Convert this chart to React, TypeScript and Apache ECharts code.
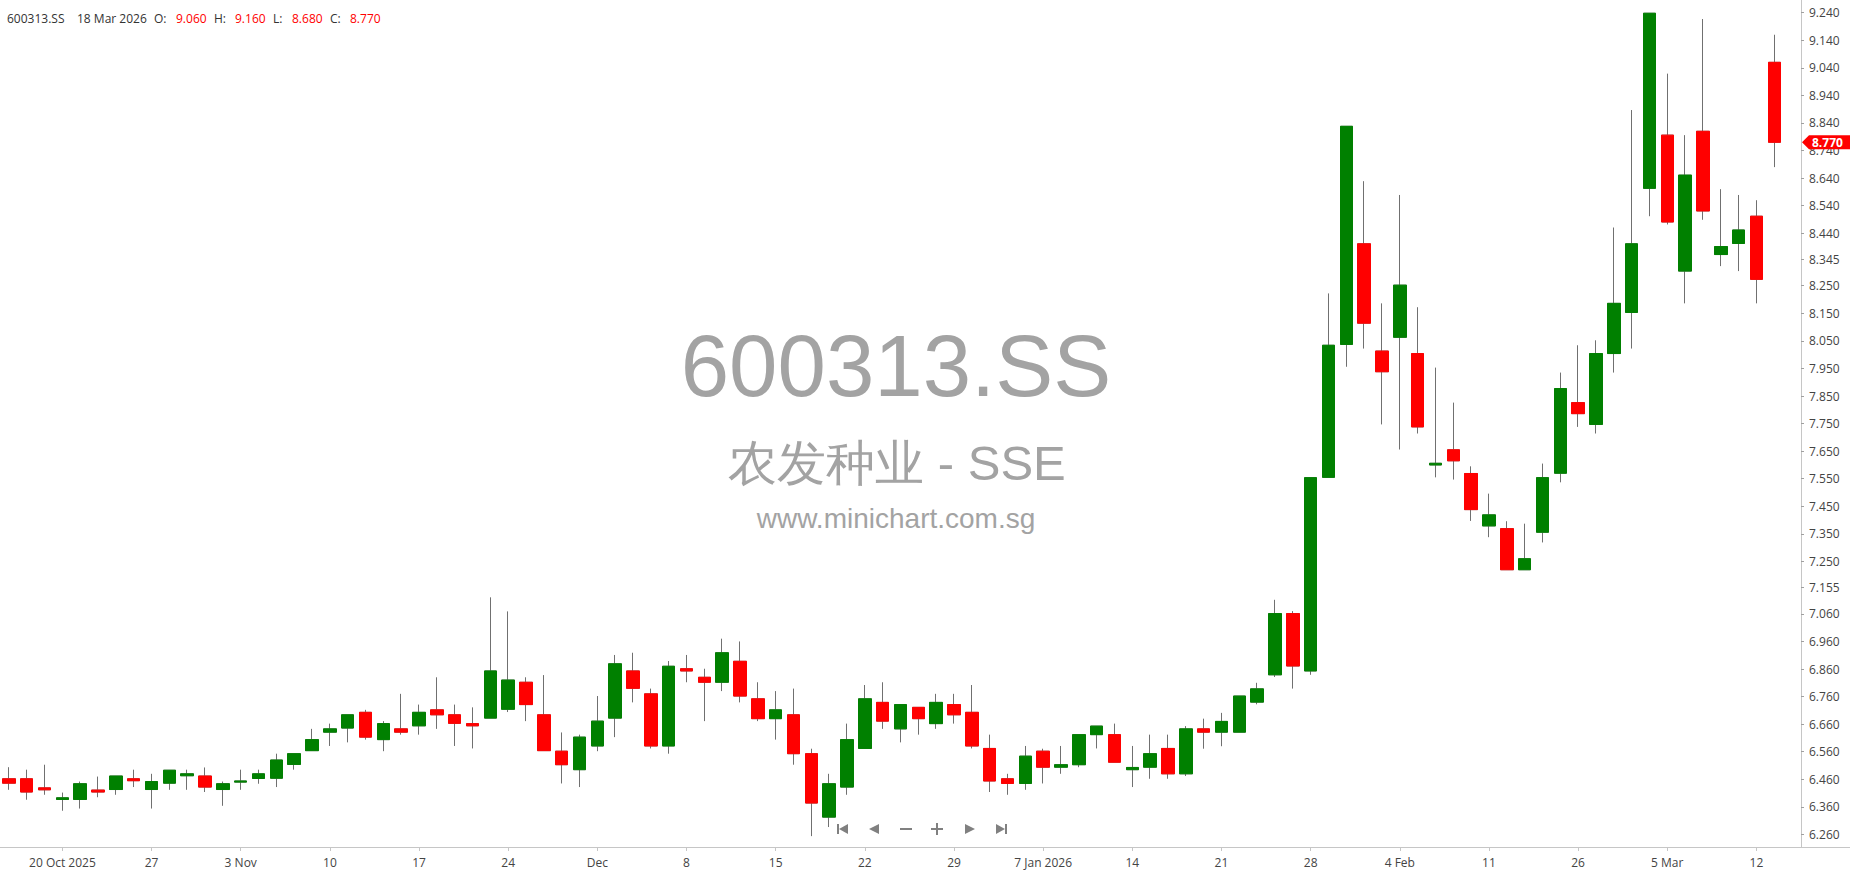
import React, { useEffect, useRef } from 'react';
import * as echarts from 'echarts';

// Trading dates (one per candle)
const dates: string[] = [
  '2025-10-15', '2025-10-16', '2025-10-17', '2025-10-20', '2025-10-21', '2025-10-22', '2025-10-23', '2025-10-24', '2025-10-27', '2025-10-28',
  '2025-10-29', '2025-10-30', '2025-10-31', '2025-11-03', '2025-11-04', '2025-11-05', '2025-11-06', '2025-11-07', '2025-11-10', '2025-11-11',
  '2025-11-12', '2025-11-13', '2025-11-14', '2025-11-17', '2025-11-18', '2025-11-19', '2025-11-20', '2025-11-21', '2025-11-24', '2025-11-25',
  '2025-11-26', '2025-11-27', '2025-11-28', '2025-12-01', '2025-12-02', '2025-12-03', '2025-12-04', '2025-12-05', '2025-12-08', '2025-12-09',
  '2025-12-10', '2025-12-11', '2025-12-12', '2025-12-15', '2025-12-16', '2025-12-17', '2025-12-18', '2025-12-19', '2025-12-22', '2025-12-23',
  '2025-12-24', '2025-12-25', '2025-12-26', '2025-12-29', '2025-12-30', '2025-12-31', '2026-01-05', '2026-01-06', '2026-01-07', '2026-01-08',
  '2026-01-09', '2026-01-12', '2026-01-13', '2026-01-14', '2026-01-15', '2026-01-16', '2026-01-19', '2026-01-20', '2026-01-21', '2026-01-22',
  '2026-01-23', '2026-01-26', '2026-01-27', '2026-01-28', '2026-01-29', '2026-01-30', '2026-02-02', '2026-02-03', '2026-02-04', '2026-02-05',
  '2026-02-06', '2026-02-09', '2026-02-10', '2026-02-11', '2026-02-12', '2026-02-13', '2026-02-24', '2026-02-25', '2026-02-26', '2026-02-27',
  '2026-03-02', '2026-03-03', '2026-03-04', '2026-03-05', '2026-03-06', '2026-03-09', '2026-03-10', '2026-03-11', '2026-03-12', '2026-03-18',
];

const opens: number[] = [
  6.462, 6.462, 6.429, 6.387, 6.387, 6.421, 6.423, 6.462, 6.423, 6.446,
  6.473, 6.472, 6.423, 6.450, 6.463, 6.464, 6.514, 6.564, 6.631, 6.646,
  6.703, 6.604, 6.643, 6.654, 6.712, 6.694, 6.662, 6.682, 6.714, 6.812,
  6.694, 6.562, 6.495, 6.581, 6.682, 6.853, 6.770, 6.581, 6.861, 6.830,
  6.812, 6.888, 6.752, 6.680, 6.694, 6.553, 6.323, 6.432, 6.572, 6.739,
  6.643, 6.721, 6.662, 6.731, 6.703, 6.572, 6.462, 6.445, 6.562, 6.504,
  6.513, 6.622, 6.622, 6.495, 6.504, 6.572, 6.480, 6.643, 6.631, 6.631,
  6.740, 6.839, 7.061, 6.853, 7.555, 8.037, 8.402, 8.013, 8.063, 8.004,
  7.600, 7.655, 7.569, 7.379, 7.369, 7.220, 7.356, 7.570, 7.826, 7.747,
  8.004, 8.153, 8.603, 8.796, 8.303, 8.810, 8.363, 8.403, 8.502, 9.060,
];

const closes: number[] = [
  6.446, 6.414, 6.422, 6.393, 6.444, 6.414, 6.472, 6.455, 6.452, 6.493,
  6.480, 6.432, 6.444, 6.454, 6.480, 6.530, 6.553, 6.604, 6.643, 6.694,
  6.613, 6.662, 6.631, 6.703, 6.694, 6.663, 6.654, 6.853, 6.820, 6.731,
  6.564, 6.513, 6.613, 6.671, 6.879, 6.790, 6.581, 6.870, 6.853, 6.812,
  6.919, 6.762, 6.680, 6.712, 6.553, 6.374, 6.444, 6.604, 6.752, 6.671,
  6.731, 6.680, 6.739, 6.694, 6.581, 6.454, 6.445, 6.544, 6.504, 6.513,
  6.622, 6.653, 6.522, 6.503, 6.553, 6.480, 6.643, 6.631, 6.670, 6.762,
  6.788, 7.061, 6.871, 7.554, 8.034, 8.828, 8.114, 7.938, 8.252, 7.738,
  7.606, 7.615, 7.438, 7.419, 7.220, 7.260, 7.554, 7.877, 7.786, 8.004,
  8.186, 8.402, 9.238, 8.481, 8.651, 8.521, 8.392, 8.452, 8.273, 8.770,
];

const lows: number[] = [
  6.422, 6.386, 6.404, 6.346, 6.354, 6.395, 6.404, 6.432, 6.354, 6.422,
  6.422, 6.414, 6.364, 6.422, 6.444, 6.432, 6.495, 6.564, 6.581, 6.594,
  6.604, 6.562, 6.622, 6.622, 6.643, 6.581, 6.572, 6.682, 6.704, 6.671,
  6.564, 6.445, 6.432, 6.562, 6.613, 6.739, 6.572, 6.553, 6.812, 6.671,
  6.780, 6.739, 6.671, 6.604, 6.513, 6.254, 6.287, 6.404, 6.572, 6.643,
  6.594, 6.622, 6.643, 6.662, 6.572, 6.414, 6.404, 6.422, 6.445, 6.480,
  6.504, 6.572, 6.522, 6.432, 6.462, 6.462, 6.472, 6.571, 6.580, 6.631,
  6.732, 6.831, 6.789, 6.839, 7.555, 7.956, 8.022, 7.747, 7.656, 7.714,
  7.555, 7.547, 7.397, 7.338, 7.220, 7.220, 7.319, 7.537, 7.738, 7.714,
  7.935, 8.022, 8.502, 8.472, 8.186, 8.489, 8.321, 8.303, 8.186, 8.680,
];

const highs: number[] = [
  6.504, 6.495, 6.513, 6.412, 6.452, 6.470, 6.472, 6.495, 6.480, 6.493,
  6.495, 6.503, 6.452, 6.495, 6.495, 6.553, 6.553, 6.643, 6.662, 6.694,
  6.712, 6.671, 6.770, 6.731, 6.830, 6.731, 6.721, 7.120, 7.069, 6.830,
  6.838, 6.630, 6.622, 6.762, 6.911, 6.919, 6.789, 6.889, 6.911, 6.861,
  6.970, 6.960, 6.812, 6.780, 6.789, 6.571, 6.480, 6.662, 6.802, 6.812,
  6.731, 6.721, 6.770, 6.770, 6.802, 6.622, 6.480, 6.581, 6.571, 6.581,
  6.622, 6.653, 6.662, 6.581, 6.622, 6.622, 6.653, 6.680, 6.701, 6.762,
  6.810, 7.111, 7.070, 7.554, 8.222, 8.828, 8.629, 8.186, 8.579, 8.172,
  7.953, 7.826, 7.595, 7.496, 7.396, 7.387, 7.605, 7.935, 8.034, 8.052,
  8.461, 8.887, 9.238, 9.019, 8.796, 9.217, 8.600, 8.579, 8.560, 9.160,
];

// Weekly x-axis labels: first at candle index 3, then every 5 candles
const xTickLabels: string[] = [
  '20 Oct 2025', '27', '3 Nov', '10', '17', '24', 'Dec', '8', '15', '22',
  '29', '7 Jan 2026', '14', '21', '28', '4 Feb', '11', '26', '5 Mar', '12',
];
const xTickStart = 3;
const xTickStep = 5;

// Right price axis labels
const yTickValues: number[] = [
  9.24, 9.14, 9.04, 8.94, 8.84, 8.74, 8.64, 8.54, 8.44, 8.345,
  8.25, 8.15, 8.05, 7.95, 7.85, 7.75, 7.65, 7.55, 7.45, 7.35,
  7.25, 7.155, 7.06, 6.96, 6.86, 6.76, 6.66, 6.56, 6.46, 6.36, 6.26,
];

const symbolName = '600313.SS';
const companyLine = '农发种业 - SSE';
const siteLine = 'www.minichart.com.sg';
const headerDate = '18 Mar 2026';

const FONT = '"Open Sans", "Noto Sans", sans-serif';
const WM_FONT = '"Liberation Sans", Arial, sans-serif';
const UP = '#008000';
const DOWN = '#ff0000';
const WICK = '#707070';
const AXIS = '#c6c6c6';
const TEXT = '#444444';

const W = 1850;
const H = 874;
const GRID_RIGHT = 49;
const GRID_BOTTOM = 27;

const isXTick = (i: number) => i >= xTickStart && (i - xTickStart) % xTickStep === 0 && (i - xTickStart) / xTickStep < xTickLabels.length;

export default function App() {
  const ref = useRef<HTMLDivElement>(null);

  useEffect(() => {
    const el = ref.current;
    if (!el) return;
    const chart = echarts.init(el, null, { renderer: 'svg' });

    const full = dates.map((_, i) => [opens[i], closes[i], lows[i], highs[i]]);
    const bodies = dates.map((_, i) => [opens[i], closes[i], Math.min(opens[i], closes[i]), Math.max(opens[i], closes[i])]);

    chart.setOption({
      animation: false,
      backgroundColor: '#ffffff',
      grid: { left: 0, right: GRID_RIGHT, top: 0, bottom: GRID_BOTTOM, containLabel: false },
      xAxis: {
        type: 'category',
        data: [...dates, ''],
        boundaryGap: true,
        axisLine: { show: true, lineStyle: { color: AXIS, width: 1 } },
        axisTick: {
          show: true,
          alignWithLabel: true,
          interval: (i: number) => isXTick(i),
          length: 4,
          lineStyle: { color: AXIS },
        },
        axisLabel: {
          interval: (i: number) => isXTick(i),
          formatter: (_v: string, i: number) => (isXTick(i) ? xTickLabels[(i - xTickStart) / xTickStep] : ''),
          color: TEXT,
          fontSize: 12,
          fontFamily: FONT,
          margin: 9,
        },
        splitLine: { show: false },
      },
      yAxis: {
        type: 'value',
        position: 'right',
        min: 6.2146,
        max: 9.286,
        axisLine: { show: true, lineStyle: { color: AXIS, width: 1 } },
        axisTick: { show: true, length: 3, customValues: yTickValues, lineStyle: { color: '#a0a0a0' } },
        axisLabel: {
          customValues: yTickValues,
          formatter: (v: number) => v.toFixed(3),
          color: TEXT,
          fontSize: 12,
          fontFamily: FONT,
          margin: 8,
        },
        splitLine: { show: false },
      },
      series: [
        {
          type: 'candlestick',
          name: 'wick',
          data: full,
          barWidth: 13,
          z: 2,
          itemStyle: {
            color: 'rgba(0,0,0,0)',
            color0: 'rgba(0,0,0,0)',
            borderColor: WICK,
            borderColor0: WICK,
            borderWidth: 1,
          },
          silent: true,
        },
        {
          type: 'candlestick',
          name: symbolName,
          data: bodies,
          barWidth: 13,
          z: 3,
          itemStyle: {
            color: UP,
            color0: DOWN,
            borderColor: UP,
            borderColor0: DOWN,
            borderWidth: 1,
          },
        },
      ],
    });

    const last = dates.length - 1;
    const tagY = chart.convertToPixel({ yAxisIndex: 0 }, closes[last]) as number;
    const axisX = W - GRID_RIGHT;
    const axisY = H - GRID_BOTTOM + 0.5;

    const headerItems: { t: string; x: number; red?: boolean }[] = [
      { t: symbolName, x: 7 },
      { t: headerDate, x: 77 },
      { t: 'O:', x: 154 },
      { t: opens[last].toFixed(3), x: 176, red: true },
      { t: 'H:', x: 214 },
      { t: highs[last].toFixed(3), x: 235, red: true },
      { t: 'L:', x: 273 },
      { t: lows[last].toFixed(3), x: 292, red: true },
      { t: 'C:', x: 330 },
      { t: closes[last].toFixed(3), x: 350, red: true },
    ];

    const navColor = '#808080';
    const ny = 829;

    const graphics: any[] = [
      // watermark
      { type: 'text', z: 0, x: 896, y: 365, silent: true, style: { text: symbolName, font: `87px ${WM_FONT}`, fill: '#a3a3a3', textAlign: 'center', textVerticalAlign: 'middle' } },
      { type: 'text', z: 0, x: 897, y: 463, silent: true, style: { text: companyLine, font: `49px ${WM_FONT}`, fill: '#a3a3a3', textAlign: 'center', textVerticalAlign: 'middle' } },
      { type: 'text', z: 0, x: 896, y: 518, silent: true, style: { text: siteLine, font: `28px ${WM_FONT}`, fill: '#a3a3a3', textAlign: 'center', textVerticalAlign: 'middle' } },
      // header
      ...headerItems.map((h) => ({
        type: 'text', z: 10, x: h.x, y: 18, silent: true,
        style: { text: h.t, font: `12px ${FONT}`, fill: h.red ? '#ff0000' : '#333333', textAlign: 'left', textVerticalAlign: 'middle' },
      })),
      // x-axis line extension under the price axis
      { type: 'line', z: 5, silent: true, shape: { x1: axisX, y1: axisY, x2: W, y2: axisY }, style: { stroke: AXIS, lineWidth: 1 } },
      // navigation buttons
      { type: 'rect', z: 10, silent: true, shape: { x: 837, y: ny - 5, width: 2, height: 10 }, style: { fill: navColor } },
      { type: 'polygon', z: 10, silent: true, shape: { points: [[839, ny], [848, ny - 5], [848, ny + 5]] }, style: { fill: navColor } },
      { type: 'polygon', z: 10, silent: true, shape: { points: [[869, ny], [879, ny - 5], [879, ny + 5]] }, style: { fill: navColor } },
      { type: 'rect', z: 10, silent: true, shape: { x: 900, y: ny - 1, width: 12, height: 2 }, style: { fill: navColor } },
      { type: 'rect', z: 10, silent: true, shape: { x: 931, y: ny - 1, width: 12, height: 2 }, style: { fill: navColor } },
      { type: 'rect', z: 10, silent: true, shape: { x: 936, y: ny - 6, width: 2, height: 12 }, style: { fill: navColor } },
      { type: 'polygon', z: 10, silent: true, shape: { points: [[965, ny - 5], [965, ny + 5], [975, ny]] }, style: { fill: navColor } },
      { type: 'polygon', z: 10, silent: true, shape: { points: [[996, ny - 5], [996, ny + 5], [1005, ny]] }, style: { fill: navColor } },
      { type: 'rect', z: 10, silent: true, shape: { x: 1005, y: ny - 5, width: 2, height: 10 }, style: { fill: navColor } },
      // last price tag
      {
        type: 'polygon', z: 20, silent: true,
        shape: { points: [[axisX + 1, tagY], [axisX + 8, tagY - 7], [W, tagY - 7], [W, tagY + 7], [axisX + 8, tagY + 7]] },
        style: { fill: '#ff0000' },
      },
      {
        type: 'text', z: 21, x: axisX + 11, y: tagY, silent: true,
        style: { text: closes[last].toFixed(3), font: `bold 12px ${FONT}`, fill: '#ffffff', textAlign: 'left', textVerticalAlign: 'middle' },
      },
    ];

    chart.setOption({ graphic: graphics });

    return () => {
      chart.dispose();
    };
  }, []);

  return (
    <div
      ref={ref}
      style={{ position: 'fixed', left: 0, top: 0, width: W, height: H, background: '#ffffff' }}
    />
  );
}
